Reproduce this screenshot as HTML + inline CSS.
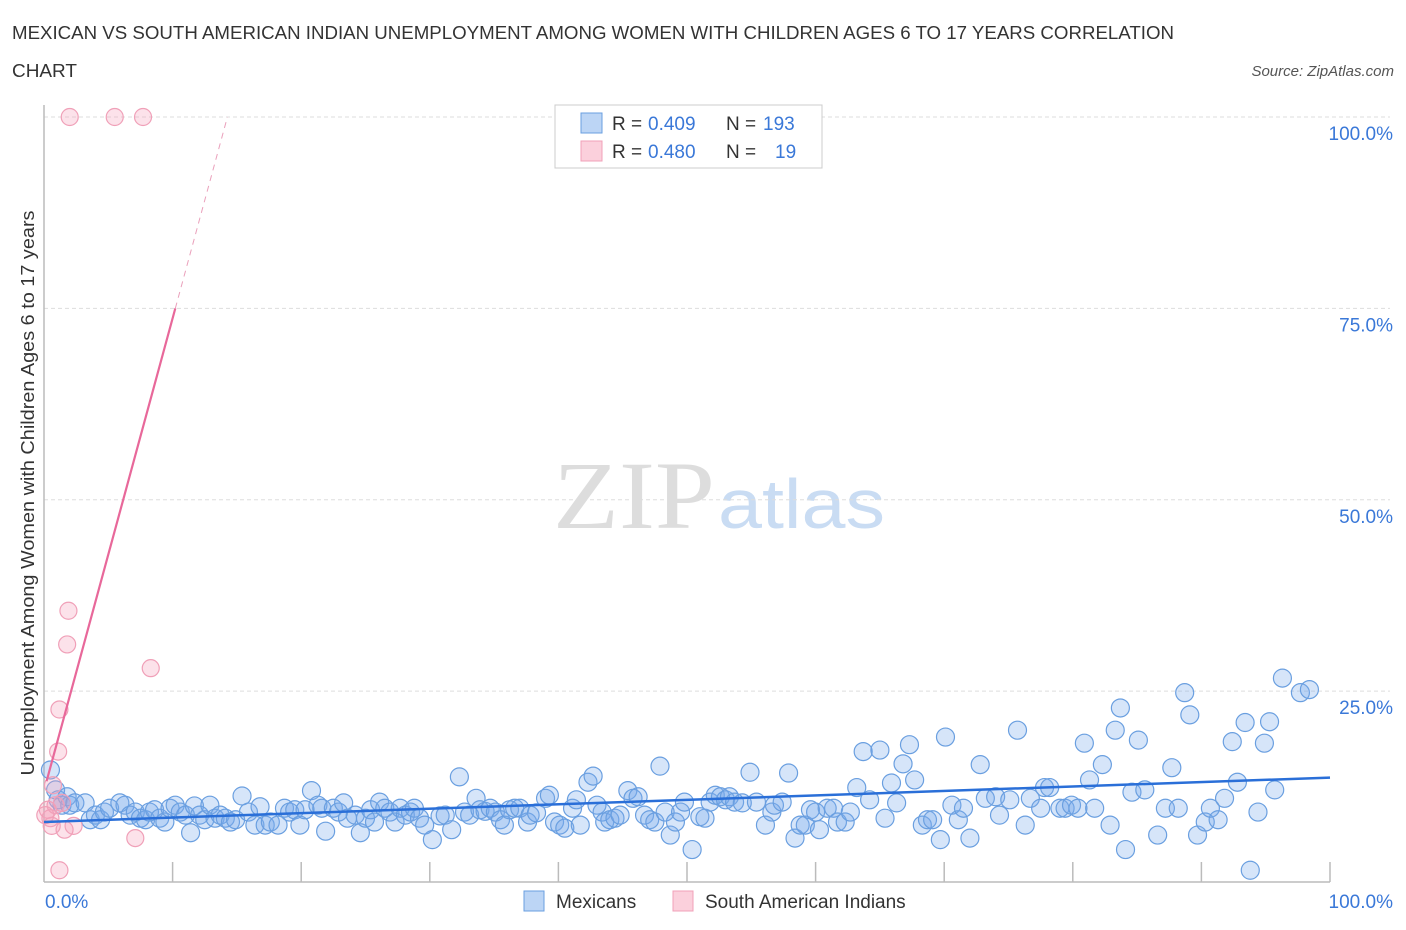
<!DOCTYPE html>
<html><head><meta charset="utf-8"><style>
body{margin:0;background:#fff;font-family:"Liberation Sans",sans-serif}
svg{display:block}
</style></head><body>
<svg id="chart" width="1406" height="930">
<text x="12" y="39" font-size="18" fill="#333" textLength="1162" lengthAdjust="spacingAndGlyphs">MEXICAN VS SOUTH AMERICAN INDIAN UNEMPLOYMENT AMONG WOMEN WITH CHILDREN AGES 6 TO 17 YEARS CORRELATION</text>
<text x="12" y="77" font-size="18" fill="#333" textLength="65" lengthAdjust="spacingAndGlyphs">CHART</text>
<text x="1394" y="76" font-size="15" fill="#555" font-style="italic" text-anchor="end">Source: ZipAtlas.com</text>
<text transform="translate(34,493) rotate(-90)" font-size="18" fill="#333" text-anchor="middle" textLength="565" lengthAdjust="spacingAndGlyphs">Unemployment Among Women with Children Ages 6 to 17 years</text>
<g>
<text x="553" y="528" font-family="Liberation Serif,serif" font-size="96" fill="#ddd" textLength="162" lengthAdjust="spacingAndGlyphs">ZIP</text>
<text x="718" y="528" font-size="70" fill="#c9dcf3" textLength="167" lengthAdjust="spacingAndGlyphs">atlas</text>
</g>
<g id="grid"></g>
<g id="axes"></g>
<g id="marks"></g>
<g>
<rect x="555" y="105" width="267" height="63" fill="#fff" stroke="#ccc"/>
<rect x="581" y="113" width="21" height="20" fill="#bcd5f5" stroke="#6a9fe0"/>
<rect x="581" y="141" width="21" height="20" fill="#fbd0dc" stroke="#f0a0b8"/>
<text x="612" y="130" font-size="19" fill="#333">R =</text>
<text x="648" y="130" font-size="19" fill="#3a78d8">0.409</text>
<text x="726" y="130" font-size="19" fill="#333">N =</text>
<text x="763" y="130" font-size="19" fill="#3a78d8">193</text>
<text x="612" y="158" font-size="19" fill="#333">R =</text>
<text x="648" y="158" font-size="19" fill="#3a78d8">0.480</text>
<text x="726" y="158" font-size="19" fill="#333">N =</text>
<text x="775" y="158" font-size="19" fill="#3a78d8">19</text>
</g>
<g>
<rect x="524" y="891" width="20" height="20" fill="#bcd5f5" stroke="#6a9fe0"/>
<text x="556" y="908" font-size="19" fill="#333">Mexicans</text>
<rect x="673" y="891" width="20" height="20" fill="#fbd0dc" stroke="#f0a0b8"/>
<text x="705" y="908" font-size="19" fill="#333">South American Indians</text>
</g>
</svg>
<script>
const yTicks=[25,50,75,100];
const yTickLabels=["25.0%","50.0%","75.0%","100.0%"];
const xTickVals=[10,20,30,40,50,60,70,80,90,100];
const mexX=[0.5,0.9,1.1,1.4,1.8,2.0,2.4,3.2,3.6,4.0,4.4,4.7,5.1,5.9,6.3,6.7,7.1,7.5,7.9,8.2,8.6,9.0,9.4,9.8,10.2,10.6,11.0,11.4,11.7,12.1,12.5,12.9,13.3,13.7,14.1,14.5,14.9,15.4,15.9,16.4,16.8,17.2,17.6,18.2,18.7,19.1,19.5,19.9,20.3,20.8,21.3,21.6,21.9,22.5,22.9,23.3,23.6,24.2,24.6,25.0,25.4,25.7,26.1,26.5,26.9,27.3,27.7,28.1,28.5,28.8,29.2,29.6,30.2,30.8,31.2,31.7,32.3,32.7,33.1,33.6,33.9,34.3,34.7,35.1,35.5,35.8,36.2,36.6,37.0,37.6,37.8,38.3,39.0,39.3,39.7,40.1,40.5,41.1,41.4,41.7,42.3,42.7,43.0,43.4,43.6,44.0,44.4,44.8,45.4,45.8,46.2,46.7,47.1,47.5,47.9,48.3,48.7,49.1,49.5,49.8,50.4,51.0,51.4,51.8,52.2,52.6,53.0,53.3,53.7,54.3,54.9,55.4,56.1,56.6,56.8,57.4,57.9,58.4,58.8,59.2,59.6,60.0,60.3,60.9,61.4,61.7,62.3,62.7,63.2,63.7,64.2,65.0,65.4,65.9,66.3,66.8,67.3,67.7,68.3,68.7,69.1,69.7,70.1,70.6,71.1,71.5,72.0,72.8,73.2,74.0,74.3,75.1,75.7,76.3,76.7,77.5,77.8,78.2,79.0,79.4,79.9,80.4,80.9,81.3,81.7,82.3,82.9,83.3,83.7,84.1,84.6,85.1,85.6,86.6,87.2,87.7,88.2,88.7,89.1,89.7,90.3,90.7,91.3,91.8,92.4,92.8,93.4,93.8,94.4,94.9,95.3,95.7,96.3,97.7,98.4];
const mexY=[14.7,12.1,10.8,10.1,11.2,10.1,10.4,10.4,8.2,8.8,8.2,9.2,9.7,10.4,10.1,8.8,9.2,8.4,8.2,9.2,9.5,8.4,7.9,9.7,10.1,9.2,8.8,6.5,10.0,8.8,8.2,10.1,8.4,8.8,8.4,7.9,8.2,11.3,9.2,7.5,9.9,7.5,7.9,7.5,9.7,9.2,9.5,7.5,9.5,12.0,10.1,9.7,6.7,9.7,9.2,10.4,8.4,8.8,6.5,8.4,9.5,7.9,10.5,9.7,9.2,7.9,9.7,8.8,9.2,9.7,8.4,7.5,5.6,8.7,8.8,6.9,13.8,9.2,8.8,11.0,9.5,9.3,9.7,9.2,8.2,7.5,9.5,9.7,9.7,7.9,8.8,9.1,11.0,11.4,7.9,7.5,7.1,9.7,10.8,7.5,13.1,13.9,10.1,9.2,7.9,8.2,8.4,8.8,12.0,11.0,11.2,8.8,8.2,7.9,15.2,9.2,6.2,7.9,9.2,10.5,4.3,8.6,8.4,10.5,11.4,11.2,10.8,11.2,10.5,10.4,14.4,10.5,7.5,9.2,10.1,10.5,14.3,5.8,7.5,7.5,9.5,9.2,6.9,9.7,9.7,7.9,7.9,9.2,12.4,17.1,10.8,17.3,8.4,13.0,10.4,15.5,18.0,13.4,7.5,8.2,8.2,5.6,19.0,10.1,8.2,9.7,5.8,15.4,11.0,11.2,8.8,10.8,19.9,7.5,11.0,9.7,12.4,12.4,9.7,9.7,10.1,9.7,18.2,13.4,9.7,15.4,7.5,19.9,22.8,4.3,11.8,18.6,12.1,6.2,9.7,15.0,9.7,24.8,21.9,6.2,7.9,9.7,8.2,11.0,18.4,13.1,20.9,1.6,9.2,18.2,21.0,12.1,26.7,24.8,25.2];
const saiX=[2.0,5.5,7.7,1.9,1.8,8.3,1.2,1.1,0.7,0.3,0.5,0.9,1.4,1.6,2.3,0.6,7.1,1.2,0.1];
const saiY=[100,100,100,35.5,31.1,28.0,22.6,17.1,12.7,9.5,8.4,10.1,10.4,6.9,7.4,7.4,5.8,1.6,8.8];
const mexTrend=[7.9,13.7];
const saiTrend=[12.0,6.17];
const X0=44,X1=1330,Y0=882.5,Y100=117;
const sx=v=>X0+(X1-X0)*v/100, sy=v=>Y0-(Y0-Y100)*v/100;
const NS="http://www.w3.org/2000/svg";
function mk(tag,parent,attrs){const e=document.createElementNS(NS,tag);for(const k in attrs)e.setAttribute(k,attrs[k]);parent.appendChild(e);return e;}
const grid=document.getElementById('grid'),axes=document.getElementById('axes'),marks=document.getElementById('marks');
yTicks.forEach((t,i)=>{
 const l=mk('line',grid,{x1:X0,x2:X1+60,y1:sy(t),y2:sy(t),stroke:'#ddd','stroke-dasharray':'4,3'});
 
 
 const tx=mk('text',axes,{x:1393,y:sy(t)+23,'font-size':19,fill:'#3a78d8','text-anchor':'end'});
 tx.textContent=yTickLabels[i];
 
 
});
const xa=mk('line',axes,{x1:X0,x2:X1,y1:882,y2:882,stroke:'#bbb','stroke-width':1.5});


const ya=mk('line',axes,{x1:X0,x2:X0,y1:105,y2:882,stroke:'#bbb','stroke-width':1.5});


xTickVals.forEach(t=>{
 const l=mk('line',axes,{x1:sx(t),x2:sx(t),y1:862,y2:882,stroke:'#bbb','stroke-width':1.5});
 
 
});
const xl0=mk('text',axes,{x:45,y:908,'font-size':19,fill:'#3a78d8'});xl0.textContent='0.0%';


const xl1=mk('text',axes,{x:1393,y:908,'font-size':19,fill:'#3a78d8','text-anchor':'end'});xl1.textContent='100.0%';


mexX.forEach((x,i)=>{
 const c=mk('circle',marks,{cx:sx(x),cy:sy(mexY[i]),r:9,fill:'rgba(120,170,235,0.3)',stroke:'#6a9fe0','stroke-width':1.2});
 
 
});
saiX.forEach((x,i)=>{
 const c=mk('circle',marks,{cx:sx(x),cy:sy(saiY[i]),r:8.5,fill:'rgba(245,160,185,0.3)',stroke:'#f0a0b8','stroke-width':1.2});
 
 
});
const bt=mk('line',marks,{x1:sx(0),y1:sy(mexTrend[0]),x2:sx(100),y2:sy(mexTrend[1]),stroke:'#2a6fd8','stroke-width':2.5});


const xs75=(75-saiTrend[0])/saiTrend[1], xs100=(100-saiTrend[0])/saiTrend[1], xst=0.2;
const pt=mk('line',marks,{x1:sx(xst),y1:sy(saiTrend[0]+saiTrend[1]*xst),x2:sx(xs75),y2:sy(75),stroke:'#e8689a','stroke-width':2.2});


const pd=mk('line',marks,{x1:sx(xs75),y1:sy(75),x2:sx(xs100),y2:sy(100),stroke:'#eaa0bb','stroke-width':1,'stroke-dasharray':'6,5'});


</script>
</body></html>
